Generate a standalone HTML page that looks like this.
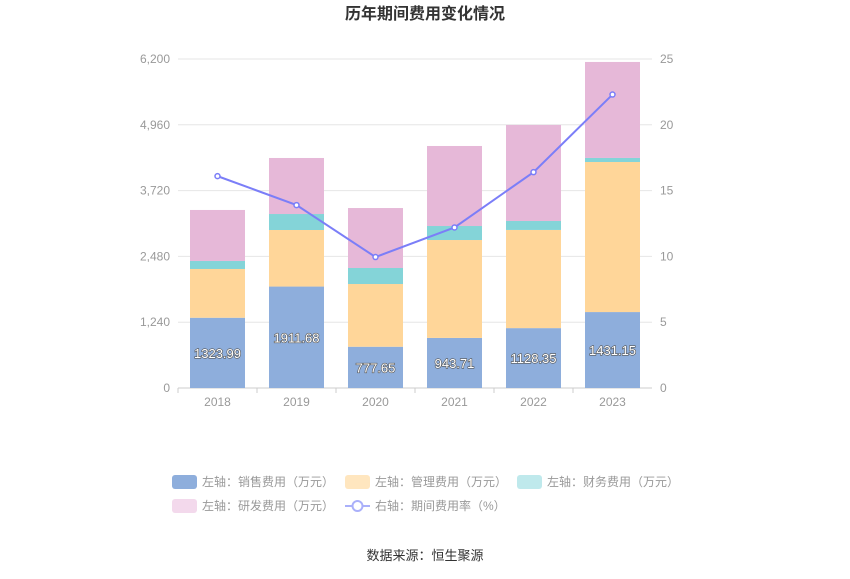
<!DOCTYPE html>
<html><head><meta charset="utf-8">
<style>
body{margin:0;background:#fff;font-family:"Liberation Sans","Noto Sans CJK SC",sans-serif;}
svg text{font-family:"Liberation Sans","Noto Sans CJK SC",sans-serif;}
</style></head>
<body>
<svg id="chart" width="850" height="574">
<text x="425" y="19" text-anchor="middle" font-size="16" font-weight="bold" fill="#333">历年期间费用变化情况</text>
<g id="grid"></g><g id="bars"></g><g id="line"></g><g id="axes"></g>
<g id="legend"></g>
<text x="425" y="560" text-anchor="middle" font-size="13" fill="#333">数据来源：恒生聚源</text>
</svg>
<script>
const categories=["2018","2019","2020","2021","2022","2023"];
const sales=[1323.99,1911.68,777.65,943.71,1128.35,1431.15];
const mgmt=[919,1066,1182,1845,1850,2828];
const finance=[151,301,302,264,169,76];
const rnd=[961,1056,1130,1508,1810,1809];
const rate=[16.1,13.9,9.95,12.2,16.4,22.3];
const leftTicks=[0,1240,2480,3720,4960,6200];
const rightTicks=[0,5,10,15,20,25];
const NS="http://www.w3.org/2000/svg";
const X0=178,X1=652,Y0=388,Y1=59;
const yL=v=>Y0-(v/6200)*(Y0-Y1);
const yR=v=>Y0-(v/25)*(Y0-Y1);
const step=(X1-X0)/categories.length;
const xC=i=>X0+step*(i+0.5);
function mk(tag,attrs,parent){const e=document.createElementNS(NS,tag);for(const k in attrs)e.setAttribute(k,attrs[k]);parent.appendChild(e);return e;}
const grid=document.getElementById('grid'),axes=document.getElementById('axes'),bars=document.getElementById('bars'),line=document.getElementById('line'),legend=document.getElementById('legend');
leftTicks.forEach((t,i)=>{
 const y=yL(t);
 const g=mk('line',{x1:X0,x2:X1,y1:y,y2:y,stroke:i===0?'#ccc':'#e6e6e6'},grid);
 
 
 const l=mk('text',{x:X0-8,y:y+4,'text-anchor':'end','font-size':12,fill:'#999'},axes);l.textContent=t.toLocaleString('en-US');
 
 
});
rightTicks.forEach(t=>{
 const l=mk('text',{x:X1+8,y:yR(t)+4,'font-size':12,fill:'#999'},axes);l.textContent=t;
 
 
});
categories.forEach((c,i)=>{
 const l=mk('text',{x:xC(i),y:Y0+18,'text-anchor':'middle','font-size':12,fill:'#999'},axes);l.textContent=c;
 
 
 const tk=mk('line',{x1:X0+step*i,x2:X0+step*i,y1:Y0,y2:Y0+5,stroke:'#ccc'},axes);
 
 
});
const series=[[sales,'#8eaedc','sales'],[mgmt,'#ffd699','mgmt'],[finance,'#84d4d8','finance'],[rnd,'#e6b8d8','rnd']];
const bw=55;
categories.forEach((c,i)=>{
 let base=0;
 series.forEach(([arr,col,nm])=>{
  const v=arr[i];
  const r=mk('rect',{x:xC(i)-bw/2,y:yL(base+v),width:bw,height:yL(base)-yL(base+v),fill:col},bars);
  
  
  base+=v;
 });
 const t=mk('text',{x:xC(i),y:(yL(0)+yL(sales[i]))/2+5,'text-anchor':'middle','font-size':13,fill:'#fff',stroke:'#555','stroke-width':1.2,'paint-order':'stroke'},bars);
 t.textContent=sales[i].toFixed(2);
 
 
});
const pts=rate.map((v,i)=>xC(i)+','+yR(v)).join(' ');
const pl=mk('polyline',{points:pts,fill:'none',stroke:'#7b7ef8','stroke-width':2},line);


rate.forEach((v,i)=>{
 const c=mk('circle',{cx:xC(i),cy:yR(v),r:2.5,fill:'#fff',stroke:'#7b7ef8','stroke-width':1.5},line);
 
 
});
const leg=[['左轴：销售费用（万元）','#8eaedc',172,482,'rect'],['左轴：管理费用（万元）','#ffe6bf',345,482,'rect'],['左轴：财务费用（万元）','#bfe9ec',517,482,'rect'],['左轴：研发费用（万元）','#f3d9ec',172,506,'rect'],['右轴：期间费用率（%）','#7b7ef8',345,506,'line']];
leg.forEach(([txt,col,x,y,type])=>{
 const g=mk('g',{},legend);
 
 
 if(type==='rect') mk('rect',{x:x,y:y-7,width:25,height:14,rx:3,fill:col},g);
 else {mk('line',{x1:x,x2:x+25,y1:y,y2:y,stroke:'#aab0fa','stroke-width':2},g);mk('circle',{cx:x+12.5,cy:y,r:5,fill:'#fff',stroke:'#aab0fa','stroke-width':2},g);}
 const t=mk('text',{x:x+30,y:y+4,'font-size':12,fill:'#999'},g);t.textContent=txt;
});
</script>
</body></html>
